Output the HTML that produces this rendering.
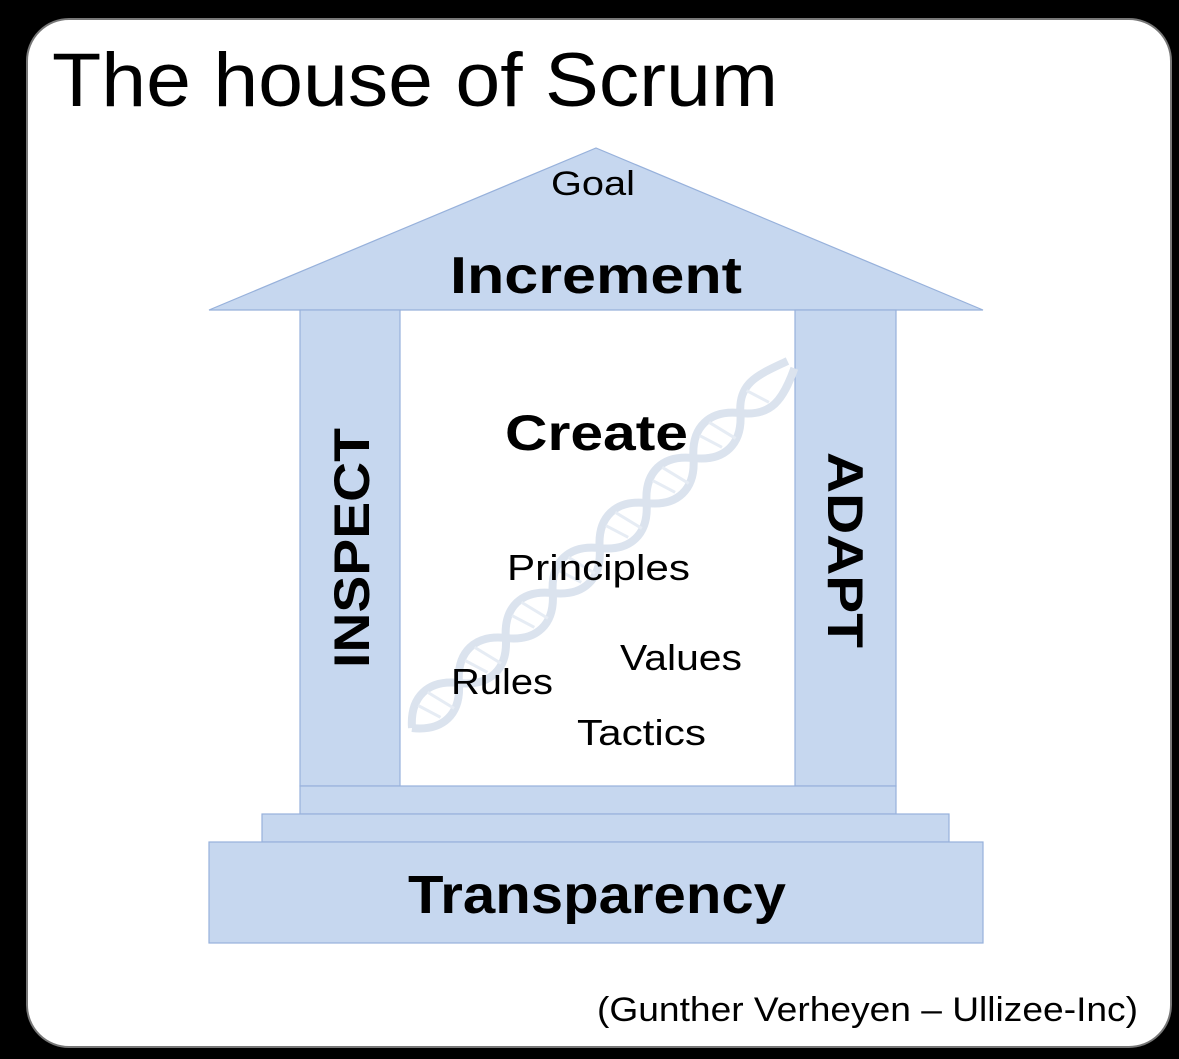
<!DOCTYPE html>
<html><head><meta charset="utf-8"><style>
html,body{margin:0;padding:0;background:#000;}
body{width:1179px;height:1054px;overflow:hidden;}
</style></head><body>
<svg width="1179" height="1054" viewBox="0 0 1179 1054" xmlns="http://www.w3.org/2000/svg" font-family="Liberation Sans, DejaVu Sans, sans-serif">
<rect x="0" y="0" width="1179" height="1054" fill="#000"/>
<rect x="27" y="19" width="1144" height="1028" rx="42" fill="#fff" stroke="#777" stroke-width="2"/>
<text x="52" y="106" font-size="76" fill="#000" textLength="726" lengthAdjust="spacingAndGlyphs">The house of Scrum</text>
<g fill="#c6d7ef" stroke="#97b1db" stroke-width="1.2">
<polygon points="209,310 596,148 983,310"/>
<rect x="300" y="310" width="100" height="476"/>
<rect x="795" y="310" width="101" height="476"/>
<rect x="300" y="786" width="596" height="28"/>
<rect x="262" y="814" width="687" height="28"/>
<rect x="209" y="842" width="774" height="101"/>
</g>
<!-- DNA -->
<g transform="translate(412,728) rotate(-43.8)">
<g fill="none" stroke="#dbe3ee" stroke-width="8">
<path d="M0,0 C20,-24 45,-24 65,0 S110,24 130,0 S175,-24 195,0 S240,24 260,0 S305,-24 325,0 S370,24 390,0 S435,-24 455,0 S495,20 525,5"/>
<path d="M0,0 C20,24 45,24 65,0 S110,-24 130,0 S175,24 195,0 S240,-24 260,0 S305,24 325,0 S370,-24 390,0 S435,24 455,0 S495,-15 525,-5"/>
</g>
<g stroke="#e6ecf4" stroke-width="3">
<line x1="20" y1="-12" x2="28" y2="12"/><line x1="36" y1="-15" x2="44" y2="15"/>
<line x1="85" y1="-12" x2="93" y2="12"/><line x1="101" y1="-15" x2="109" y2="15"/>
<line x1="150" y1="-12" x2="158" y2="12"/><line x1="166" y1="-15" x2="174" y2="15"/>
<line x1="215" y1="-12" x2="223" y2="12"/><line x1="231" y1="-15" x2="239" y2="15"/>
<line x1="280" y1="-12" x2="288" y2="12"/><line x1="296" y1="-15" x2="304" y2="15"/>
<line x1="345" y1="-12" x2="353" y2="12"/><line x1="361" y1="-15" x2="369" y2="15"/>
<line x1="410" y1="-12" x2="418" y2="12"/><line x1="426" y1="-15" x2="434" y2="15"/>
<line x1="475" y1="-12" x2="483" y2="12"/>
</g>
</g>
<g fill="#000">
<text x="551" y="195" font-size="34" textLength="84" lengthAdjust="spacingAndGlyphs">Goal</text>
<text x="450" y="293" font-size="52" font-weight="bold" textLength="292" lengthAdjust="spacingAndGlyphs">Increment</text>
<text x="505" y="450" font-size="50" font-weight="bold" textLength="183" lengthAdjust="spacingAndGlyphs">Create</text>
<text x="507" y="580" font-size="36" textLength="183" lengthAdjust="spacingAndGlyphs">Principles</text>
<text x="620" y="670" font-size="36" textLength="122" lengthAdjust="spacingAndGlyphs">Values</text>
<text x="451" y="694" font-size="36" textLength="102" lengthAdjust="spacingAndGlyphs">Rules</text>
<text x="577" y="745" font-size="36" textLength="129" lengthAdjust="spacingAndGlyphs">Tactics</text>
<text x="408" y="913" font-size="54" font-weight="bold" textLength="378" lengthAdjust="spacingAndGlyphs">Transparency</text>
<text transform="translate(369,668) rotate(-90)" font-size="50" font-weight="bold" textLength="240" lengthAdjust="spacingAndGlyphs">INSPECT</text>
<text transform="translate(828,452) rotate(90)" font-size="50" font-weight="bold" textLength="196" lengthAdjust="spacingAndGlyphs">ADAPT</text>
</g>
<text x="597" y="1021" font-size="34" fill="#000" textLength="541" lengthAdjust="spacingAndGlyphs">(Gunther Verheyen – Ullizee-Inc)</text>
</svg>
</body></html>
